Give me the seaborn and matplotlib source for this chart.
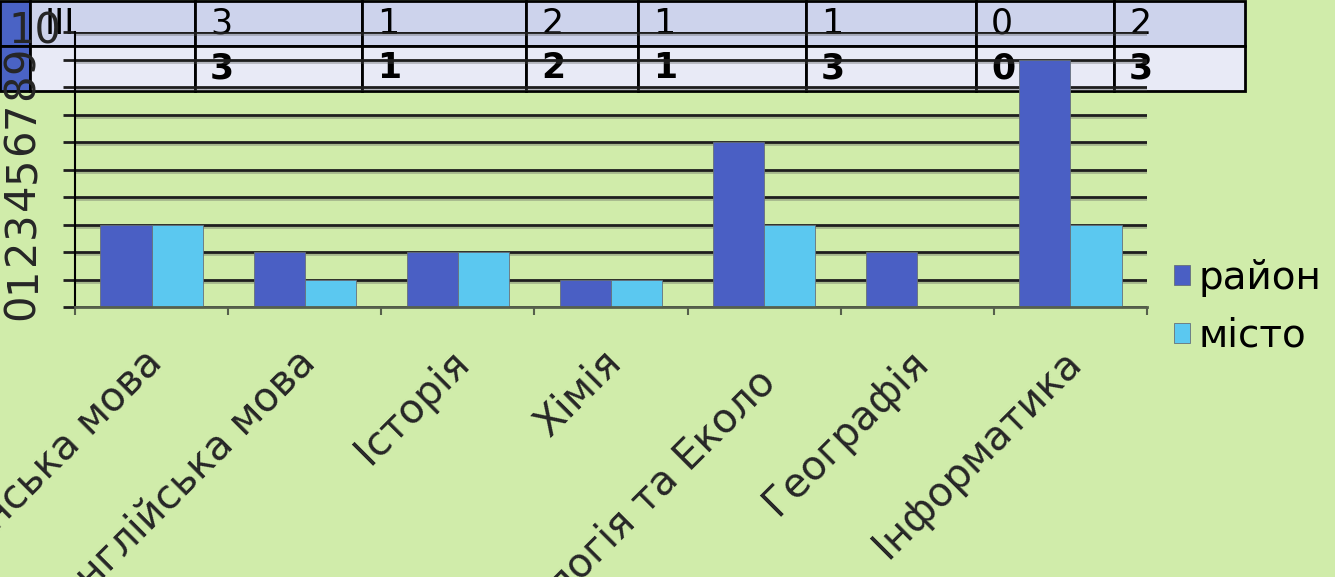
import numpy as np
import pandas as pd
import matplotlib
matplotlib.use("Agg")
import matplotlib.pyplot as plt
import matplotlib.patheffects as pe
import seaborn as sns
from matplotlib.transforms import ScaledTranslation

# --- data -------------------------------------------------------------
subjects = ["Українська мова", "Англійська мова", "Історія", "Хімія",
            "Біологія та Еколо", "Географія", "Інформатика"]
district = [3, 2, 2, 1, 6, 2, 9]
city = [3, 1, 2, 1, 3, 0, 3]
series_names = ["район", "місто"]
y_ticks = list(range(0, 11))

table_row_labels = ["ІІІ", ""]
table_row1 = [3, 1, 2, 1, 1, 0, 2]
table_row2 = [3, 1, 2, 1, 3, 0, 3]

# --- style --------------------------------------------------------------
W, H, DPI = 1335, 577, 100
BG = "#d0ecaa"
C_DISTRICT = "#4a5fc4"
C_CITY = "#5bc8f0"
GRID = "#1e1e1e"

sns.set_theme(style="white")
plt.rcParams["font.family"] = ["DejaVu Sans"]
plt.rcParams["text.color"] = "black"


def fx(px):
    return px / W


def fy(px):
    return 1 - px / H


fig = plt.figure(figsize=(W / DPI, H / DPI), dpi=DPI, facecolor=BG)

# --- results table across the top -------------------------------------
col_edges = [0, 30, 195, 362, 526, 638, 806, 976, 1114, 1245]
tab_top, tab_bot = 1, 91
tax = fig.add_axes([0, fy(tab_bot), fx(col_edges[-1]), (tab_bot - tab_top) / H])
tax.set_axis_off()
cell_text = [[""] + [table_row_labels[0]] + [str(v) for v in table_row1],
             [""] + [table_row_labels[1]] + [str(v) for v in table_row2]]
widths = list(np.diff(col_edges) / col_edges[-1])
tbl = tax.table(cellText=cell_text, colWidths=widths, bbox=[0, 0, 1, 1],
                cellLoc="left")
tbl.auto_set_font_size(False)
for (r, c), cell in tbl.get_celld().items():
    cell.set_linewidth(2)
    cell.set_edgecolor("black")
    cell.PAD = 15 / (col_edges[c + 1] - col_edges[c])
    if c == 0:
        cell.set_facecolor("#4a63c5")
    else:
        cell.set_facecolor("#cdd3ec" if r == 0 else "#e8eaf6")
    t = cell.get_text()
    t.set_fontsize(25)
    if r == 1:
        t.set_fontweight("bold")

# --- bar chart ---------------------------------------------------------
ax = fig.add_axes([fx(75), fy(307), fx(1147 - 75), (307 - 32) / H])
ax.set_facecolor("none")
ax.set_zorder(3)

df = pd.DataFrame({
    "subject": subjects * 2,
    "value": district + city,
    "series": [series_names[0]] * len(subjects) + [series_names[1]] * len(subjects),
})
sns.barplot(data=df, x="subject", y="value", hue="series",
            palette=[C_DISTRICT, C_CITY], width=0.667, saturation=1,
            edgecolor="#66707a", linewidth=0.6, ax=ax)

ax.set_xlim(-0.5, len(subjects) - 0.5)
ax.set_ylim(0, 10)
ax.set_xlabel("")
ax.set_ylabel("")
ax.set_axisbelow(True)
ax.yaxis.grid(True, color=GRID, lw=2)
ax.xaxis.grid(False)
for gl in ax.get_ygridlines():
    gl.set_path_effects([pe.SimpleLineShadow(offset=(0, -1.5), alpha=0.35,
                                             shadow_color="#555555"),
                         pe.Normal()])

for side in ("top", "right"):
    ax.spines[side].set_visible(False)
ax.spines["left"].set_color("black")
ax.spines["left"].set_linewidth(1.5)
ax.spines["bottom"].set_color("#56604c")
ax.spines["bottom"].set_linewidth(2)

# y axis: ticks extend the gridlines to the left, labels turned sideways
ax.set_yticks(y_ticks)
ax.set_yticklabels([str(v) for v in y_ticks])
ax.tick_params(axis="y", which="major", length=8.6, width=2, color=GRID,
               pad=29.5, labelsize=30, direction="out", left=True)
for lbl in ax.get_yticklabels():
    lbl.set_ha("center")
    lbl.set_va("center")
    if lbl.get_text() == "10":
        lbl.set_rotation(0)
        lbl.set_transform(lbl.get_transform()
                          + ScaledTranslation(0.13, 0, fig.dpi_scale_trans))
    else:
        lbl.set_rotation(90)

# x axis: category boundaries marked, labels slanted
ax.set_xticks(np.arange(len(subjects)))
ax.set_xticklabels(subjects)
ax.set_xticks(np.arange(-0.5, len(subjects), 1), minor=True)
ax.tick_params(axis="x", which="major", length=0, pad=24, labelsize=29,
               bottom=True)
ax.tick_params(axis="x", which="minor", length=5.8, width=1.5,
               color="#56604c", direction="out", bottom=True)
for lbl in ax.get_xticklabels():
    lbl.set_rotation(45)
    lbl.set_ha("right")
    lbl.set_va("top")
    lbl.set_rotation_mode("anchor")
    dy = -0.22 if lbl.get_text().startswith("Біологія") else -0.02
    lbl.set_transform(lbl.get_transform()
                      + ScaledTranslation(-0.09, dy, fig.dpi_scale_trans))

# legend to the right of the plot
handles, labels = ax.get_legend_handles_labels()
if ax.legend_ is not None:
    ax.legend_.remove()
fig.legend(handles, labels, loc="center left",
           bbox_to_anchor=(fx(1174), fy(307)), frameon=False, fontsize=28,
           handlelength=0.42, handleheight=0.42, handletextpad=0.22,
           labelspacing=0.5, borderpad=0, borderaxespad=0)

fig.savefig("out.png", dpi=DPI, facecolor=BG)
